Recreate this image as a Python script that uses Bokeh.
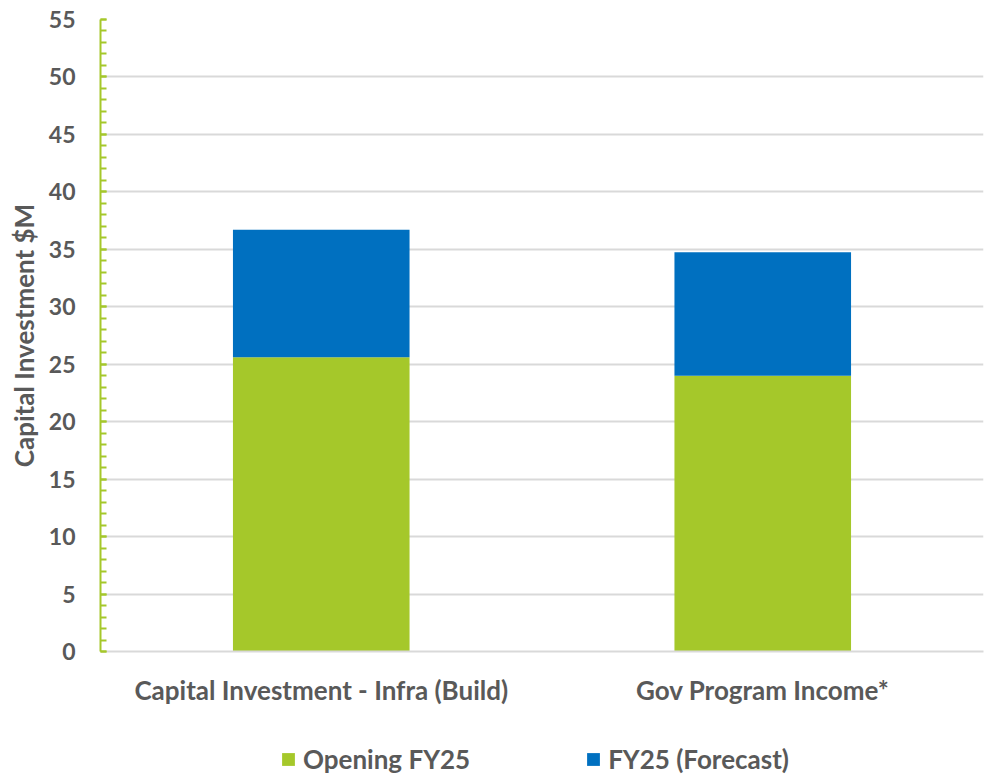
from bokeh.plotting import figure
from bokeh.layouts import column
from bokeh.models import ColumnDataSource, FactorRange, Range1d, Legend, LegendItem, SingleIntervalTicker
from bokeh.embed import file_html
from bokeh.resources import INLINE

categories = ["Capital Investment - Infra (Build)", "Gov Program Income*"]
opening_fy25 = [25.6, 24.0]
fy25_forecast = [11.1, 10.75]
series = ["Opening FY25", "FY25 (Forecast)"]
colors = ["#a5c82a", "#0070c0"]

source = ColumnDataSource(dict(cat=categories, opening=opening_fy25, forecast=fy25_forecast))

font = "Lato"
txt = "#595959"

p = figure(width=989, height=730, x_range=FactorRange(*categories, range_padding=0.0),
           y_range=Range1d(0, 55), output_backend="svg", toolbar_location=None,
           min_border_left=100, min_border_right=6, min_border_top=19, min_border_bottom=79)

r = p.vbar_stack(["opening", "forecast"], x="cat", width=0.4, color=colors, source=source,
                 line_color=None)

p.yaxis.ticker = SingleIntervalTicker(interval=5, num_minor_ticks=5)
p.yaxis.axis_line_color = "#a5c82a"
p.yaxis.axis_line_width = 2
p.yaxis.major_tick_line_color = "#a5c82a"
p.yaxis.minor_tick_line_color = "#a5c82a"
p.yaxis.major_tick_line_width = 2
p.yaxis.minor_tick_line_width = 2
p.yaxis.major_tick_in = 6
p.yaxis.major_tick_out = 0
p.yaxis.minor_tick_in = 6
p.yaxis.minor_tick_out = 0
p.yaxis.major_label_text_font = font
p.yaxis.major_label_text_font_style = "bold"
p.yaxis.major_label_text_font_size = "23px"
p.yaxis.major_label_text_color = txt
p.yaxis.major_label_standoff = 25
p.yaxis.axis_label = "Capital Investment $M"
p.yaxis.axis_label_text_font = font
p.yaxis.axis_label_text_font_style = "bold"
p.yaxis.axis_label_text_font_size = "26px"
p.yaxis.axis_label_text_color = txt
p.yaxis.axis_label_standoff = 6

p.xaxis.axis_line_color = "#d9d9d9"
p.xaxis.axis_line_width = 2
p.xaxis.major_tick_line_color = None
p.xaxis.minor_tick_line_color = None
p.xaxis.major_label_text_font = font
p.xaxis.major_label_text_font_style = "bold"
p.xaxis.major_label_text_font_size = "26px"
p.xaxis.major_label_text_color = txt
p.xaxis.major_label_standoff = 16

p.xgrid.grid_line_color = None
p.ygrid.grid_line_color = "#d9d9d9"
p.ygrid.grid_line_width = 2
p.outline_line_color = None

# legend strip below the chart
lg = figure(width=989, height=49, x_range=FactorRange(*categories, range_padding=0.0),
            y_range=Range1d(0, 55), output_backend="svg", toolbar_location=None,
            x_axis_location=None, y_axis_location=None,
            min_border_left=0, min_border_right=0, min_border_top=0, min_border_bottom=0)
lr = lg.vbar_stack(["opening", "forecast"], x="cat", width=0.4, color=colors, source=source,
                   line_color=None)
for rr in lr:
    rr.visible = False
lg.grid.grid_line_color = None
lg.outline_line_color = None

legend = Legend(items=[LegendItem(label=series[0], renderers=[lr[0]]),
                       LegendItem(label=series[1], renderers=[lr[1]])],
                orientation="horizontal", location=(180, 4),
                label_text_font=font, label_text_font_style="bold",
                label_text_font_size="26px", label_text_color=txt,
                glyph_width=16, glyph_height=16, label_standoff=7, spacing=115,
                border_line_color=None, background_fill_alpha=0, padding=0, margin=0)
lg.add_layout(legend, "center")

layout = column(p, lg, spacing=0)
open("out.html", "w").write(file_html(layout, INLINE))
